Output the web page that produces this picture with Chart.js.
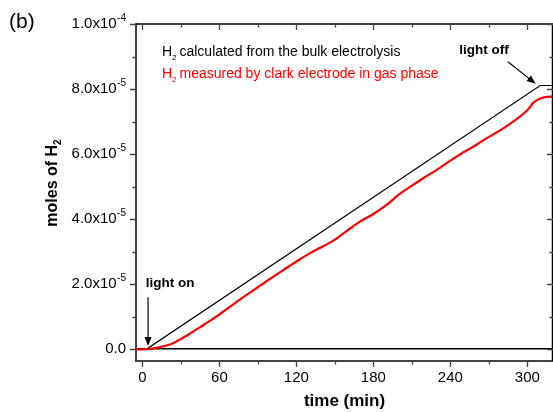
<!DOCTYPE html>
<html>
<head>
<meta charset="utf-8">
<script src="https://cdn.jsdelivr.net/npm/chart.js@4.4.0/dist/chart.umd.min.js"></script>
<style>
  html, body { margin: 0; padding: 0; background: #fff; }
  #wrap { width: 553px; height: 412px; }
</style>
</head>
<body>
<div id="wrap"><canvas id="chart" width="553" height="412"></canvas></div>
<script>
// values in 1e-6 mol, time in min
var unit = 1e-6;

var calcTime = [-5, 3, 310, 320];
var calcH2   = [0, 0, 81.1, 81.1];

var clarkTime = [-5, 0, 5, 10, 15, 20, 25, 30, 35, 40, 45, 50, 60, 70, 80, 90, 100, 110, 120, 130,
                 140, 150, 160, 170, 180, 190, 200, 210, 220, 230, 240, 250, 260, 270, 280, 290,
                 300, 305, 310, 315, 320];
var clarkH2   = [0, 0, 0.1, 0.4, 0.8, 1.3, 2.1, 3.2, 4.3, 5.6, 6.8, 8.1, 10.7, 13.6, 16.4, 19.1, 21.8, 24.4, 27.0, 29.4,
                 31.5, 33.7, 36.6, 39.4, 41.6, 44.3, 47.6, 50.3, 52.9, 55.3, 58.0, 60.5, 62.8, 65.3, 67.6, 70.3,
                 73.5, 75.9, 77.1, 77.6, 77.7];

var xTicks = [0, 30, 60, 90, 120, 150, 180, 210, 240, 270, 300];
var xTickLabels = ['0', '', '60', '', '120', '', '180', '', '240', '', '300'];
var yTicks = [0, 1e-5, 2e-5, 3e-5, 4e-5, 5e-5, 6e-5, 7e-5, 8e-5, 9e-5, 1e-4];
var yTickMant = ['0.0', '', '2.0x10', '', '4.0x10', '', '6.0x10', '', '8.0x10', '', '1.0x10'];
var yTickExp  = ['', '', '-5', '', '-5', '', '-5', '', '-5', '', '-4'];

function pts(t, v) {
  return t.map(function(x, i) { return { x: x, y: v[i] * unit }; });
}

var FONT = 'Liberation Sans, Arial, sans-serif';

// frame, inward/outward ticks, labels, arrows and texts
var decor = {
  id: 'decor',
  afterDraw: function(chart) {
    var ctx = chart.ctx, a = chart.chartArea, x = chart.scales.x, y = chart.scales.y;
    ctx.save();
    ctx.strokeStyle = '#000';
    ctx.lineWidth = 1.5;
    ctx.beginPath();
    ctx.moveTo(a.left, a.top); ctx.lineTo(a.right, a.top);
    ctx.moveTo(a.right - 0.5, a.top); ctx.lineTo(a.right - 0.5, a.bottom);
    ctx.stroke();

    ctx.strokeStyle = '#444';
    ctx.lineWidth = 1.3;
    ctx.beginPath();
    xTicks.forEach(function(t, i) {
      var px = Math.round(x.getPixelForValue(t)) + 0.5;
      var len = xTickLabels[i] ? 6 : 3.5;
      ctx.moveTo(px, a.bottom); ctx.lineTo(px, a.bottom + len);
      ctx.moveTo(px, a.top); ctx.lineTo(px, a.top + len);
    });
    yTicks.forEach(function(t, i) {
      var py = Math.round(y.getPixelForValue(t)) + 0.5;
      var len = yTickMant[i] ? 6 : 3.5;
      ctx.moveTo(a.left - len, py); ctx.lineTo(a.left, py);
      ctx.moveTo(a.right - len, py); ctx.lineTo(a.right, py);
    });
    ctx.stroke();

    // y tick labels with superscript exponent
    ctx.fillStyle = '#000';
    ctx.textBaseline = 'middle';
    yTicks.forEach(function(t, i) {
      if (!yTickMant[i]) return;
      var py = y.getPixelForValue(t);
      var right = a.left - 10;
      ctx.font = '10px ' + FONT;
      var ew = yTickExp[i] ? ctx.measureText(yTickExp[i]).width : 0;
      ctx.textAlign = 'left';
      if (ew) ctx.fillText(yTickExp[i], right - ew, py - 6);
      ctx.font = '15px ' + FONT;
      ctx.textAlign = 'right';
      ctx.fillText(yTickMant[i], right - ew - (ew ? 0.5 : 0), py);
    });

    // y axis title
    ctx.save();
    ctx.translate(53, 183);
    ctx.rotate(-Math.PI / 2);
    ctx.font = 'bold 16px ' + FONT;
    var tw = ctx.measureText('moles of H').width;
    ctx.font = 'bold 10px ' + FONT;
    var sw = ctx.measureText('2').width;
    var sx = -(tw + sw) / 2;
    ctx.textAlign = 'left';
    ctx.font = 'bold 16px ' + FONT;
    ctx.fillText('moles of H', sx, 0);
    ctx.font = 'bold 10px ' + FONT;
    ctx.fillText('2', sx + tw, 5);
    ctx.restore();

    // panel letter
    ctx.font = '21px ' + FONT;
    ctx.textAlign = 'left';
    ctx.fillText('(b)', 9, 22);

    // legend texts
    function h2line(txt, color, px, py) {
      ctx.fillStyle = color;
      ctx.font = '14px ' + FONT;
      ctx.fillText('H', px, py);
      var w = ctx.measureText('H').width;
      ctx.font = '8px ' + FONT;
      ctx.fillText('2', px + w, py + 5);
      var w2 = ctx.measureText('2').width;
      ctx.font = '14px ' + FONT;
      ctx.fillText(txt, px + w + w2 + 3, py);
    }
    h2line('calculated from the bulk electrolysis', '#000', x.getPixelForValue(15.2), y.getPixelForValue(91.2 * unit));
    h2line('measured by clark electrode in gas phase', '#ff0000', x.getPixelForValue(15.2), y.getPixelForValue(84.5 * unit));

    // annotations
    ctx.fillStyle = '#000';
    ctx.font = 'bold 13.5px ' + FONT;
    ctx.fillText('light on', x.getPixelForValue(2.6), y.getPixelForValue(20.2 * unit));
    ctx.fillText('light off', x.getPixelForValue(247), y.getPixelForValue(91.8 * unit));

    function arrow(t1, v1, t2, v2) {
      var x1 = x.getPixelForValue(t1), y1 = y.getPixelForValue(v1 * unit);
      var x2 = x.getPixelForValue(t2), y2 = y.getPixelForValue(v2 * unit);
      var ang = Math.atan2(y2 - y1, x2 - x1);
      ctx.strokeStyle = '#000';
      ctx.lineWidth = 1.2;
      ctx.beginPath();
      ctx.moveTo(x1, y1); ctx.lineTo(x2 - 6 * Math.cos(ang), y2 - 6 * Math.sin(ang));
      ctx.stroke();
      ctx.beginPath();
      ctx.moveTo(x2, y2);
      ctx.lineTo(x2 - 9 * Math.cos(ang) + 3.5 * Math.sin(ang), y2 - 9 * Math.sin(ang) - 3.5 * Math.cos(ang));
      ctx.lineTo(x2 - 9 * Math.cos(ang) - 3.5 * Math.sin(ang), y2 - 9 * Math.sin(ang) + 3.5 * Math.cos(ang));
      ctx.closePath();
      ctx.fill();
    }
    arrow(4.4, 16, 4.4, 1.0);
    arrow(284.8, 88.4, 306.6, 81.6);
    ctx.restore();
  }
};

new Chart(document.getElementById('chart'), {
  type: 'line',
  data: {
    datasets: [
      {
        label: 'H2 measured by clark electrode in gas phase',
        data: pts(clarkTime, clarkH2),
        borderColor: '#ff0000',
        borderWidth: 2.2,
        pointRadius: 0,
        tension: 0.3,
        order: 1
      },
      {
        label: 'H2 calculated from the bulk electrolysis',
        data: pts(calcTime, calcH2),
        borderColor: '#000',
        borderWidth: 1.2,
        pointRadius: 0,
        tension: 0,
        order: 2
      }
    ]
  },
  options: {
    responsive: false,
    animation: false,
    layout: { padding: { top: 24, right: 0, left: 0, bottom: 0 } },
    plugins: { legend: { display: false }, tooltip: { enabled: false } },
    scales: {
      x: {
        type: 'linear',
        min: -5,
        max: 320,
        afterBuildTicks: function(s) { s.ticks = xTicks.map(function(v) { return { value: v }; }); },
        afterFit: function(s) { s.height = 51; s.paddingLeft = 0; s.paddingRight = 0; },
        ticks: {
          autoSkip: false,
          maxRotation: 0,
          padding: 8,
          color: '#000',
          font: { family: FONT, size: 15 },
          callback: function(v) { var i = xTicks.indexOf(v); return i < 0 ? '' : xTickLabels[i]; }
        },
        grid: { display: false, drawTicks: false },
        border: { display: true, color: '#444', width: 2 },
        title: {
          display: true,
          text: 'time (min)',
          color: '#000',
          font: { family: FONT, size: 17, weight: 'bold' },
          padding: { top: 0, bottom: 0 }
        }
      },
      y: {
        type: 'linear',
        min: -3.6e-6,
        max: 1e-4,
        afterBuildTicks: function(s) { s.ticks = yTicks.map(function(v) { return { value: v }; }); },
        afterFit: function(s) { s.width = 136; },
        ticks: { display: false },
        grid: {
          drawTicks: false,
          color: function(c) { return c.tick && Math.abs(c.tick.value) < 1e-12 ? '#000' : 'rgba(0,0,0,0)'; },
          lineWidth: 1.6
        },
        border: { display: true, color: '#444', width: 2 }
      }
    }
  },
  plugins: [decor]
});
</script>
</body>
</html>
